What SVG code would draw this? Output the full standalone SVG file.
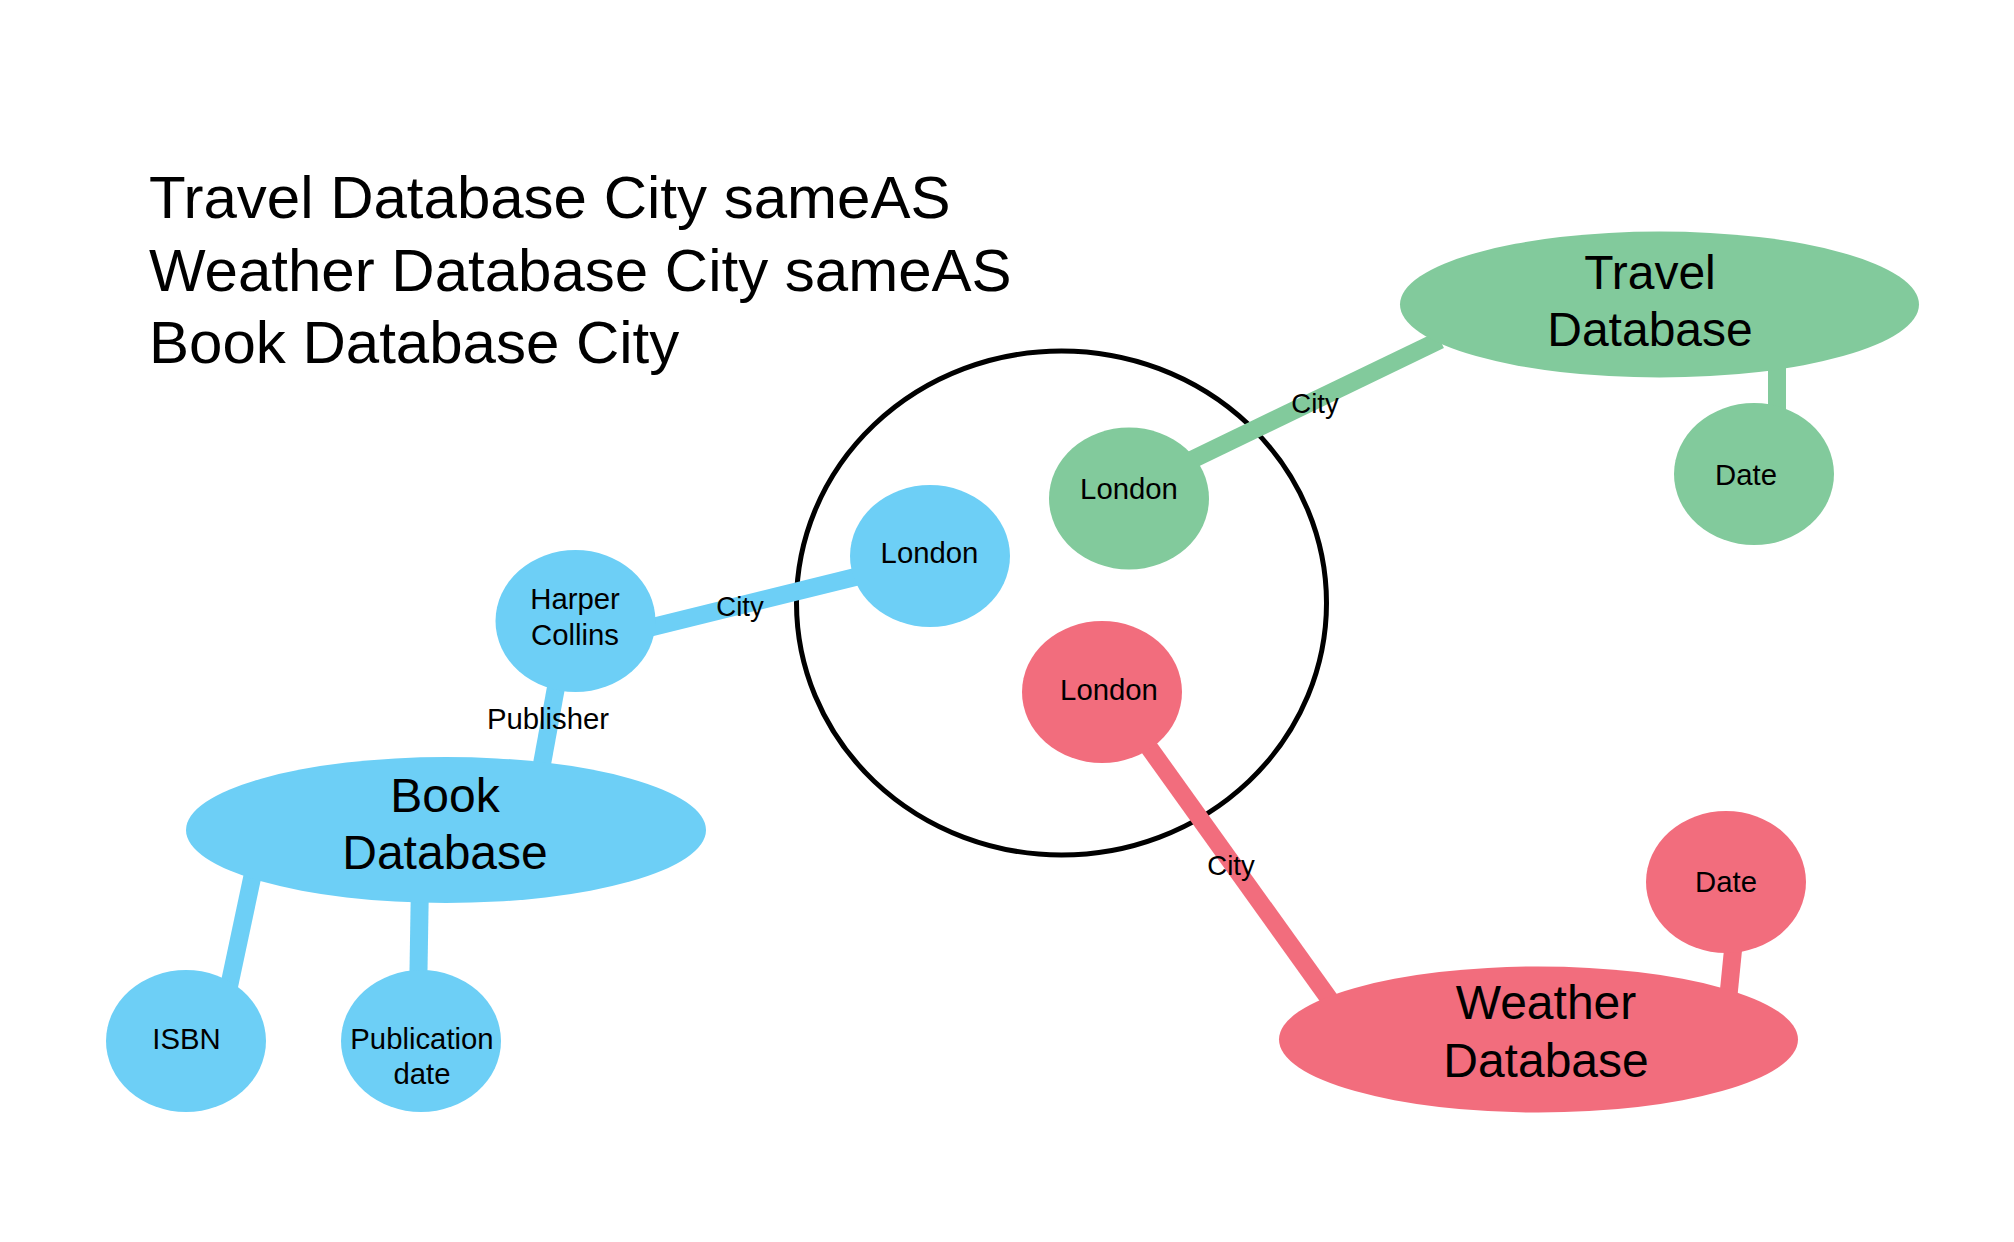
<svg xmlns="http://www.w3.org/2000/svg" width="2014" height="1242" viewBox="0 0 2014 1242">
<style>
  text { font-family: "Liberation Sans", Arial, sans-serif; fill: #000; text-anchor: middle; }
  .title { font-size: 60px; text-anchor: start; }
  .big { font-size: 48px; }
  .small { font-size: 29.3px; }
  .elabel { font-size: 27.5px; }
  .blue { fill: #6DCFF6; }
  .green { fill: #82CA9C; }
  .red { fill: #F26D7D; }
  .eb { stroke: #6DCFF6; stroke-width: 18; fill: none; }
  .eg { stroke: #82CA9C; stroke-width: 18; fill: none; }
  .er { stroke: #F26D7D; stroke-width: 18; fill: none; }
</style>
<rect width="2014" height="1242" fill="#FFFFFF"/>

<g id="title">
  <text class="title" x="149" y="218">Travel Database City sameAS</text>
  <text class="title" x="149" y="290.5">Weather Database City sameAS</text>
  <text class="title" x="149" y="363">Book Database City</text>
</g>

<g id="sameAs-circle">
  <ellipse cx="1061.5" cy="603" rx="265" ry="252" fill="none" stroke="#000" stroke-width="5"/>
</g>

<g id="connectors">
  <line class="eb" x1="600" y1="640" x2="900" y2="566"/>
  <line class="eb" x1="561" y1="660" x2="540" y2="775"/>
  <line class="eb" x1="258" y1="850" x2="224" y2="1010"/>
  <line class="eb" x1="420" y1="880" x2="418" y2="1000"/>
  <line class="eg" x1="1150" y1="480" x2="1440" y2="340"/>
  <line class="eg" x1="1777" y1="355" x2="1777" y2="430"/>
  <line class="er" x1="1120" y1="707" x2="1330" y2="1000"/>
  <line class="er" x1="1735" y1="930" x2="1727" y2="1010"/>
  <text class="elabel" x="740" y="616">City</text>
  <text class="small" x="548" y="729">Publisher</text>
  <text class="elabel" x="1315" y="413">City</text>
  <text class="elabel" x="1231" y="875">City</text>
</g>

<g id="book-database">
  <ellipse class="blue" cx="446" cy="830" rx="260" ry="73"/>
  <text class="big" x="445" y="812">Book</text>
  <text class="big" x="445" y="869">Database</text>
</g>
<g id="harper-collins">
  <ellipse class="blue" cx="575.5" cy="621" rx="80" ry="71"/>
  <text class="small" x="575" y="609">Harper</text>
  <text class="small" x="575" y="645">Collins</text>
</g>
<g id="book-london">
  <ellipse class="blue" cx="930" cy="556" rx="80" ry="71"/>
  <text class="small" x="929.5" y="563">London</text>
</g>
<g id="isbn">
  <ellipse class="blue" cx="186" cy="1041" rx="80" ry="71"/>
  <text class="small" x="186.5" y="1049">ISBN</text>
</g>
<g id="publication-date">
  <ellipse class="blue" cx="421" cy="1041" rx="80" ry="71"/>
  <text class="small" x="422" y="1049">Publication</text>
  <text class="small" x="422" y="1084">date</text>
</g>

<g id="travel-database">
  <ellipse class="green" cx="1659.5" cy="304.5" rx="259.5" ry="73"/>
  <text class="big" x="1650" y="289">Travel</text>
  <text class="big" x="1650" y="346">Database</text>
</g>
<g id="travel-london">
  <ellipse class="green" cx="1129" cy="498.5" rx="80" ry="71"/>
  <text class="small" x="1129" y="498.5">London</text>
</g>
<g id="travel-date">
  <ellipse class="green" cx="1754" cy="474" rx="80" ry="71"/>
  <text class="small" x="1746" y="485">Date</text>
</g>

<g id="weather-database">
  <ellipse class="red" cx="1538.5" cy="1039.5" rx="259.5" ry="73"/>
  <text class="big" x="1546" y="1019">Weather</text>
  <text class="big" x="1546" y="1077">Database</text>
</g>
<g id="weather-london">
  <ellipse class="red" cx="1102" cy="692" rx="80" ry="71"/>
  <text class="small" x="1109" y="700">London</text>
</g>
<g id="weather-date">
  <ellipse class="red" cx="1726" cy="882" rx="80" ry="71"/>
  <text class="small" x="1726" y="892">Date</text>
</g>
</svg>
